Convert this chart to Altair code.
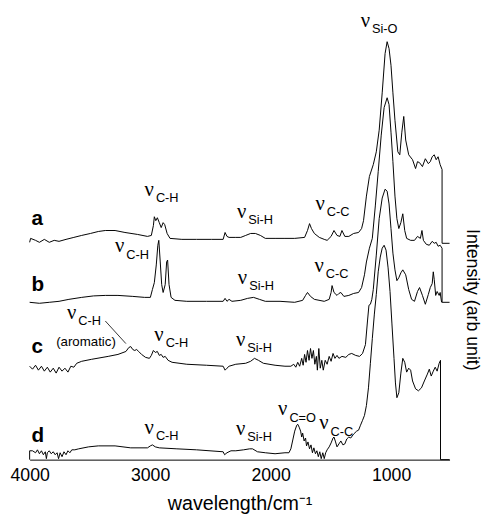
import altair as alt
import pandas as pd

# ---- spectra: (wavenumber cm-1, intensity arb. units, offset included) ----
a_points = [(4000,221),(3992,225),(3951,223),(3919,221),(3878,224),(3837,221),(3796,223),(3756,222),(3698,224),(3633,226),(3568,228),(3495,230),(3430,232),(3372,233),(3291,233),(3209,231),(3104,229),(3022,227),(2990,228),(2973,238),(2965,247),(2953,243),(2940,246),(2924,241),(2908,236),(2892,241),(2879,239),(2859,230),(2835,225),(2737,224),(2615,224),(2492,224),(2394,224),(2378,231),(2362,227),(2345,226),(2289,226),(2248,226),(2207,228),(2166,230),(2126,230),(2085,228),(2044,225),(1963,225),(1881,225),(1800,225),(1718,226),(1694,233),(1677,240),(1661,235),(1637,230),(1596,226),(1555,224),(1531,223),(1498,227),(1474,233),(1449,228),(1425,227),(1408,233),(1384,227),(1351,227),(1311,230),(1270,231),(1245,235),(1229,243),(1205,268),(1180,288),(1148,300),(1123,313),(1099,335),(1074,373),(1050,413),(1033,425),(1017,418),(1001,401),(985,373),(968,345),(944,313),(928,310),(911,333),(895,349),(879,325),(854,310),(822,305),(797,296),(781,303),(764,302),(740,298),(716,306),(691,301),(675,303),(659,308),(642,310),(626,305),(610,308),(593,300),(577,295),(577,220),(515,220)]

b_points = [(4000,160),(3919,159),(3837,160),(3756,161),(3674,163),(3568,165),(3470,166.5),(3372,167),(3267,167),(3144,166),(3046,165),(2998,165),(2981,173),(2965,180),(2949,198),(2936,218),(2928,223),(2916,201),(2904,178),(2892,170),(2875,178),(2863,201),(2855,203),(2843,178),(2826,165),(2794,162),(2696,161),(2533,161),(2394,161),(2378,164),(2362,161),(2345,163),(2321,161),(2248,162),(2191,164),(2142,165),(2093,163),(2044,161),(1922,161),(1800,160),(1734,162),(1710,167),(1694,170),(1669,166),(1637,163),(1555,161),(1514,163),(1498,170),(1490,177),(1474,170),(1449,167),(1433,169),(1417,170),(1392,166),(1351,167),(1311,169),(1270,170),(1245,175),(1221,188),(1205,201),(1180,215),(1156,225),(1131,258),(1107,293),(1082,330),(1058,358),(1033,368),(1017,361),(1001,333),(985,303),(968,268),(952,245),(936,235),(919,241),(903,250),(887,233),(871,225),(838,223),(806,223),(781,227),(757,225),(744,233),(732,223),(708,219),(683,218),(659,222),(642,220),(626,221),(610,217),(593,218),(577,215),(577,160),(515,160)]

c_points = [(4000,95),(3976,92),(3951,96),(3927,91),(3902,95),(3878,90),(3853,94),(3829,89),(3804,93),(3780,88),(3756,94),(3731,90),(3707,93),(3682,89),(3658,95),(3633,94),(3609,98),(3568,100),(3487,102),(3348,105),(3267,107),(3201,110),(3177,114),(3161,115),(3144,112),(3128,111),(3112,112),(3095,110),(3071,107),(3038,104),(3006,103),(2990,106),(2973,111),(2957,109),(2940,110),(2924,106),(2908,107),(2892,104),(2875,105),(2851,101),(2818,99),(2696,97),(2533,96),(2394,95),(2378,91),(2362,93),(2345,95),(2289,97),(2207,98),(2166,100),(2134,103),(2101,101),(2060,98),(1963,96),(1881,95),(1832,95),(1808,97),(1791,94),(1775,99),(1759,95),(1742,103),(1730,96),(1718,107),(1706,99),(1694,111),(1681,101),(1669,113),(1657,103),(1645,111),(1633,97),(1620,105),(1612,91),(1600,113),(1588,93),(1575,101),(1563,91),(1547,101),(1531,97),(1514,105),(1498,100),(1482,108),(1466,103),(1449,106),(1433,103),(1408,105),(1376,104),(1351,107),(1327,108),(1294,106),(1262,105),(1237,108),(1213,117),(1196,141),(1184,157),(1172,158),(1160,163),(1148,173),(1123,208),(1099,245),(1074,266),(1050,275),(1033,273),(1017,260),(1001,235),(985,210),(968,193),(952,182),(936,185),(919,190),(903,193),(879,188),(854,173),(830,163),(806,161),(781,171),(764,175),(740,167),(716,158),(691,168),(675,175),(659,179),(650,191),(642,183),(630,167),(618,171),(601,167),(593,170),(581,160)]

d_points = [(4000,0),(4000,9),(3976,9),(3951,7),(3935,10),(3919,6),(3902,9),(3886,5),(3870,8),(3861,1),(3853,7),(3837,9),(3821,6),(3804,8),(3788,5),(3772,7),(3760,1),(3747,7),(3731,3),(3715,8),(3698,5),(3682,9),(3666,7),(3650,10),(3625,10),(3593,11),(3511,13),(3430,14),(3291,14),(3161,12),(3022,12),(2998,14),(2981,15),(2957,13),(2924,12),(2778,11),(2615,10),(2394,8),(2382,5),(2362,7),(2329,9),(2289,9),(2224,10),(2174,11),(2150,11),(2109,8),(2044,7),(1963,6),(1881,7),(1848,7),(1832,11),(1816,20),(1800,29),(1783,35),(1775,36),(1763,33),(1751,29),(1742,23),(1734,27),(1722,19),(1710,22),(1702,14),(1690,18),(1677,11),(1665,15),(1653,7),(1641,12),(1628,6),(1616,9),(1604,3),(1592,8),(1580,1),(1567,7),(1555,1),(1543,7),(1531,10),(1514,13),(1498,17),(1482,22),(1474,23),(1461,18),(1449,13),(1433,16),(1417,19),(1400,15),(1384,16),(1368,21),(1351,23),(1335,22),(1311,26),(1286,29),(1270,30),(1254,35),(1237,40),(1221,45),(1205,55),(1188,73),(1172,98),(1156,123),(1139,148),(1123,168),(1107,191),(1090,206),(1074,215),(1058,218),(1042,213),(1025,195),(1009,171),(993,138),(976,103),(964,78),(952,63),(936,68),(919,88),(903,103),(887,99),(871,89),(854,93),(838,91),(822,80),(797,72),(773,70),(748,73),(724,80),(699,87),(683,92),(667,85),(650,90),(634,94),(618,90),(601,98),(590,101),(590,0),(515,0)]

# ---- band annotations (nu + subscript) ----
nu_wn = [1253, 3046, 2280, 1628, 3291, 2272, 1636, 3690, 2965, 2288, 1938, 1596, 3046, 2288]
nu_int = [440, 268, 246, 254, 211, 179, 191, 143, 121, 116, 45, 31, 26, 25]
nu_sub = ["Si-O", "C-H", "Si-H", "C-C", "C-H", "Si-H", "C-C", "C-H", "C-H", "Si-H", "C=O", "C-C", "C-H", "Si-H"]

# ---- sample letters ----
letters = ["a", "b", "c", "d"]
letter_wn = [3984, 3984, 3984, 3984]
letter_int = [239, 172, 108, 18]

# ---- aromatic note and leader ----
arom_text = ["(aromatic)"]
arom_wn = [3780]
arom_int = [116]
leader_wn = [3372]
leader_wn2 = [3201]
leader_int = [141]
leader_int2 = [118]

x_ticks = [4000, 3000, 2000, 1000]

rows = []
for name, pts in [("a", a_points), ("b", b_points), ("c", c_points), ("d", d_points)]:
    for i, (w, v) in enumerate(pts):
        rows.append({"sample": name, "wn": w, "I": v, "i": i})
spec_df = pd.DataFrame(rows)
nu_df = pd.DataFrame({"wn": nu_wn, "I": nu_int, "sub": nu_sub, "nu": ["ν"] * len(nu_wn)})
let_df = pd.DataFrame({"wn": letter_wn, "I": letter_int, "t": letters})
arom_df = pd.DataFrame({"wn": arom_wn, "I": arom_int, "t": arom_text})
lead_df = pd.DataFrame({"wn": leader_wn, "wn2": leader_wn2, "I": leader_int, "I2": leader_int2})

xs = alt.Scale(domain=[4000, 515], nice=False, zero=False)
ys = alt.Scale(domain=[0, 450], nice=False, zero=False)
x_axis = alt.Axis(values=x_ticks, format="d", ticks=False, grid=False,
                  domainColor="black", domainWidth=1,
                  labelFont="Liberation Sans", labelFontSize=18, labelColor="black",
                  labelPadding=7, labelFlush=False, labelOverlap=False,
                  title="wavelength/cm⁻¹", titleFont="Liberation Sans", titleFontSize=20,
                  titleFontWeight="normal", titleColor="black", titlePadding=10)
y_axis = alt.Axis(orient="right", domain=False, ticks=False, labels=False, grid=False,
                  title="Intensity (arb unit)", titleFont="Liberation Sans", titleFontSize=18,
                  titleFontWeight="normal", titleColor="black", titleAngle=90,
                  titleX=22, titleY=287, titleAlign="center", titleBaseline="middle")

def X(f="wn"):
    return alt.X(f"{f}:Q", scale=xs, axis=x_axis)

def Y(f="I"):
    return alt.Y(f"{f}:Q", scale=ys, axis=y_axis)

lines = alt.Chart(spec_df).mark_line(color="black", strokeWidth=1, clip=False).encode(
    x=X(), y=Y(), detail="sample:N", order="i:Q")

nu = alt.Chart(nu_df).mark_text(align="left", baseline="alphabetic", font="Liberation Serif",
                                fontSize=21, color="black").encode(x=X(), y=Y(), text="nu:N")
sub = alt.Chart(nu_df).mark_text(align="left", baseline="alphabetic", font="Liberation Sans",
                                 fontSize=13, color="black", dx=11.5, dy=6.5).encode(
    x=X(), y=Y(), text="sub:N")
lets = alt.Chart(let_df).mark_text(align="left", baseline="alphabetic", font="Liberation Sans",
                                   fontSize=21, fontWeight="bold", color="black").encode(
    x=X(), y=Y(), text="t:N")
arom = alt.Chart(arom_df).mark_text(align="left", baseline="alphabetic", font="Liberation Sans",
                                    fontSize=13.5, color="black").encode(x=X(), y=Y(), text="t:N")
lead = alt.Chart(lead_df).mark_rule(color="black", strokeWidth=0.8).encode(
    x=X(), x2="wn2:Q", y=Y(), y2="I2:Q")

chart = alt.layer(lines, lead, nu, sub, lets, arom).properties(
    width=427, height=450,
    autosize=alt.AutoSizeParams(type="none"),
    padding={"left": 22, "top": 5, "right": 33, "bottom": 51},
    background="white",
).configure_view(stroke=None)

chart.save("out.html", embed_options={"renderer": "svg", "actions": False})
